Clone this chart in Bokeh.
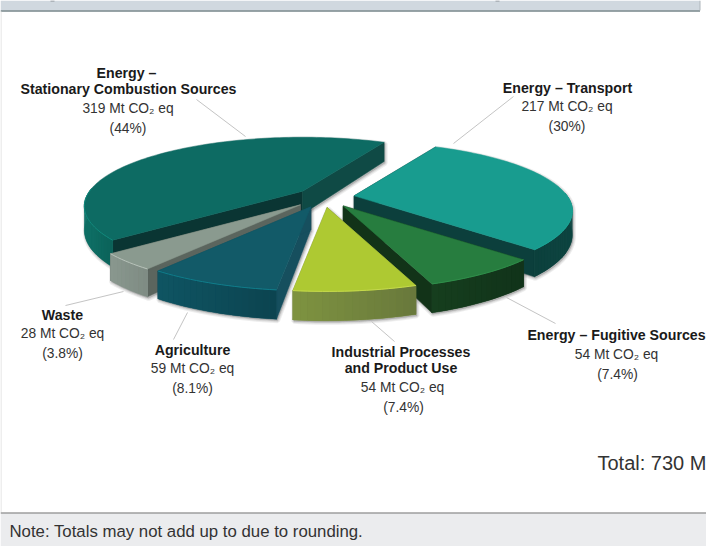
import math

from bokeh.core.properties import value
from bokeh.embed import file_html
from bokeh.models import ColumnDataSource, Range1d
from bokeh.plotting import figure
from bokeh.resources import INLINE

# Emissions by sector, clockwise from the back of the pie
CATEGORIES = [
    "Energy – Transport",
    "Energy – Fugitive Sources",
    "Industrial Processes and Product Use",
    "Agriculture",
    "Waste",
    "Energy – Stationary Combustion Sources",
]
VALUES = [217, 54, 54, 59, 28, 319]
SHARES = ["30%", "7.4%", "7.4%", "8.1%", "3.8%", "44%"]
TOTAL_TEXT = "Total: 730 Mt CO₂ eq"
NOTE_TEXT = "Note: Totals may not add up to due to rounding."

# Colours: top face, outer wall (two ends of a gradient), rim highlight, cut faces
TOP = ["#189c8f", "#277d3f", "#aec932", "#125a68", "#8a9a8f", "#0d6b63"]
WALL_A = ["#0c3f3c", "#163f1e", "#7f9440", "#0f5563", "#8a988f", "#0f7268"]
WALL_B = ["#0d4541", "#11331a", "#69793c", "#0c4450", "#7f8c84", "#0b6259"]
RIM = ["#1aa596", "#2f8f4a", "#c6da4c", "#0f7c8a", "#b8c3bb", "#0f897c"]
CUT_START = ["#0c3f3c", "#123318", "#69793c", "#164f5e", "#5b655e", "#0a3533"]
CUT_END = ["#0c3f3c", "#123318", "#7f9440", "#164f5e", "#5b655e", "#0f4a45"]

# Pie projection: a tilted disc seen in perspective
CX, CY = 323.5, 197.0
RADIUS_X, RADIUS_Y = 213.0, 65.7
PERSPECTIVE = 0.2175
HEIGHT = 23.0
EXPLODE_X, EXPLODE_Y = 30.0, 10.0
EXPLODE_NUDGE_X = [0.5, 3.0, 0.0, -2.0, -3.0, 2.0]
START_ANGLE = 62.8
DRAW_ORDER = [5, 0, 4, 3, 1, 2]


def project(ox, oy, angle, drop=0.0):
    X, Y = math.cos(angle), math.sin(angle)
    s = 1.0 / (1.0 + PERSPECTIVE * Y)
    return ox + RADIUS_X * X * s, oy - RADIUS_Y * Y * s + drop * s


def mix(a, b, t):
    ca = [int(a[i:i + 2], 16) for i in (1, 3, 5)]
    cb = [int(b[i:i + 2], 16) for i in (1, 3, 5)]
    return "#%02x%02x%02x" % tuple(round(x + (y - x) * t) for x, y in zip(ca, cb))


def hull(points):
    pts = sorted(set(points))

    def half(seq):
        out = []
        for q in seq:
            while len(out) > 1 and ((out[-1][0] - out[-2][0]) * (q[1] - out[-2][1])
                                    - (out[-1][1] - out[-2][1]) * (q[0] - out[-2][0])) <= 0:
                out.pop()
            out.append(q)
        return out[:-1]

    return half(pts) + half(pts[::-1])


p = figure(width=706, height=546, output_backend="svg", toolbar_location=None,
           x_range=Range1d(0, 706), y_range=Range1d(546, 0),
           x_axis_type=None, y_axis_type=None, min_border=0,
           outline_line_color=None, background_fill_color="white")
p.grid.visible = False

# Page furniture: header strip, footer strip, left rule
p.quad(left=0, right=699.5, top=0, bottom=10, fill_color="#d0d8df", line_color=None)
p.segment(x0=0, y0=10.5, x1=699.5, y1=10.5, line_color="#76868a", line_width=1.5)
p.segment(x0=699.5, y0=0, x1=699.5, y1=10, line_color="#aeb6bb", line_width=1)
p.segment(x0=[50, 495], y0=[0.5, 0.5], x1=[54, 499], y1=[0.5, 0.5], line_color="#8a9095", line_width=1)
p.segment(x0=0.5, y0=11, x1=0.5, y1=512, line_color="#dddddd", line_width=1)
p.quad(left=0, right=706, top=512, bottom=546, fill_color="#ebecee", line_color=None)
p.segment(x0=0, y0=512.5, x1=706, y1=512.5, line_color="#777777", line_width=1)

# Slice geometry derived from the values
total = sum(VALUES)
slices = []
angle = math.radians(START_ANGLE)
for k, v in enumerate(VALUES):
    sweep = 2 * math.pi * v / total
    a0, a1 = angle, angle - sweep
    mid = (a0 + a1) / 2
    ox = CX + EXPLODE_X * math.cos(mid) + EXPLODE_NUDGE_X[k]
    oy = CY - EXPLODE_Y * math.sin(mid)
    n = max(8, int(abs(sweep) / math.radians(1.5)))
    arc = [a0 + (a1 - a0) * i / n for i in range(n + 1)]
    slices.append((ox, oy, arc))
    angle = a1

# Soft shadows lie beneath every slice
for ox, oy, arc in slices:
    top_pts = [(ox, oy)] + [project(ox, oy, a) for a in arc]
    low_pts = [(ox, oy + HEIGHT)] + [project(ox, oy, a, HEIGHT) for a in arc]
    outline = hull(top_pts + low_pts)
    xs = [q[0] + 1.0 for q in outline]
    ys = [q[1] + 1.5 for q in outline]
    for width in (5.0, 3.0, 1.5):
        p.patch(xs, ys, fill_color="#555555", fill_alpha=0.10,
                line_color="#555555", line_alpha=0.10, line_width=width)

for idx in DRAW_ORDER:
    ox, oy, arc = slices[idx]

    # Cut faces
    for a, colour in ((arc[0], CUT_START[idx]), (arc[-1], CUT_END[idx])):
        x1, y1 = project(ox, oy, a)
        x2, y2 = project(ox, oy, a, HEIGHT)
        p.patch([ox, x1, x2, ox], [oy, y1, y2, oy + HEIGHT],
                fill_color=colour, line_color=colour, line_width=0.5)

    # Outer wall, front-facing part only: a solid band, then shaded quads over it
    rim = [project(ox, oy, a) for a in arc]
    front_arc = [a for a in arc if math.sin(a) < 0.05]
    edge = [project(ox, oy, a) for a in front_arc]
    foot = [project(ox, oy, a, HEIGHT) for a in front_arc]
    band = edge + foot[::-1]
    base = mix(WALL_A[idx], WALL_B[idx], 0.5)
    p.patch([q[0] for q in band], [q[1] for q in band],
            fill_color=base, line_color=base, line_width=0.5)
    xl = min(q[0] for q in edge)
    xr = max(q[0] for q in edge)
    wall_xs, wall_ys, wall_colours = [], [], []
    for i in range(len(front_arc) - 1):
        wall_xs.append([edge[i][0], edge[i + 1][0], foot[i + 1][0], foot[i][0]])
        wall_ys.append([edge[i][1], edge[i + 1][1], foot[i + 1][1], foot[i][1]])
        # Gradient runs left to right across the slice's front
        wall_colours.append(mix(WALL_A[idx], WALL_B[idx], (edge[i][0] - xl) / (xr - xl)))
    p.patches(wall_xs, wall_ys, fill_color=wall_colours, line_color=None)

    # Top face
    p.patch([ox] + [q[0] for q in rim], [oy] + [q[1] for q in rim],
            fill_color=TOP[idx], line_color=TOP[idx], line_width=0.5)

    # Rim highlight where the wall faces the viewer
    p.line([q[0] for q in edge], [q[1] for q in edge], line_color=RIM[idx], line_width=1.0)

# Leader lines
LEADER_X0 = [196, 513, 65, 173, 371, 506]
LEADER_Y0 = [99, 96, 305, 339, 321, 297]
LEADER_X1 = [245, 453, 123, 187, 394, 555]
LEADER_Y1 = [136, 143, 291, 312, 341, 323]
p.segment(x0=LEADER_X0, y0=LEADER_Y0, x1=LEADER_X1, y1=LEADER_Y1,
          line_color="#c4c4c4", line_width=1)


def amount(i):
    return f"{VALUES[i]} Mt CO₂ eq"


def share(i):
    return f"({SHARES[i]})"


# (text, centre x, centre y)
bold_labels = [
    ("Energy –", 126, 72),
    ("Stationary Combustion Sources", 128, 88),
    (CATEGORIES[0], 567, 87),
    ("Waste", 62, 314),
    (CATEGORIES[3], 192, 349),
    ("Industrial Processes", 400.5, 351),
    ("and Product Use", 400.5, 367),
    (CATEGORIES[1], 616, 334),
]
plain_labels = [
    (amount(5), 127.5, 108), (share(5), 127.5, 128),
    (amount(0), 566.5, 106), (share(0), 566.5, 126),
    (amount(4), 62, 333), (share(4), 62, 353),
    (amount(3), 192, 368), (share(3), 192, 388),
    (amount(2), 402, 387), (share(2), 403, 407),
    (amount(1), 616, 354), (share(1), 617, 374),
]


def labels(rows, **style):
    src = ColumnDataSource(dict(text=[r[0] for r in rows], x=[r[1] for r in rows], y=[r[2] for r in rows]))
    p.text(x="x", y="y", text="text", source=src, text_align="center", text_baseline="middle",
           text_font=value("Liberation Sans"), **style)


labels(bold_labels, text_font_size="14.2px", text_font_style="bold", text_color="#1a1a1a")
labels(plain_labels, text_font_size="13.8px", text_color="#333333")

p.text(x=[597], y=[462], text=[TOTAL_TEXT], text_align="left", text_baseline="middle",
       text_font=value("Liberation Sans"), text_font_size="20px", text_color="#333333")
p.text(x=[9], y=[531], text=[NOTE_TEXT], text_align="left", text_baseline="middle",
       text_font=value("Liberation Sans"), text_font_size="16.8px", text_color="#333333")

open("out.html", "w").write(file_html(p, INLINE))
